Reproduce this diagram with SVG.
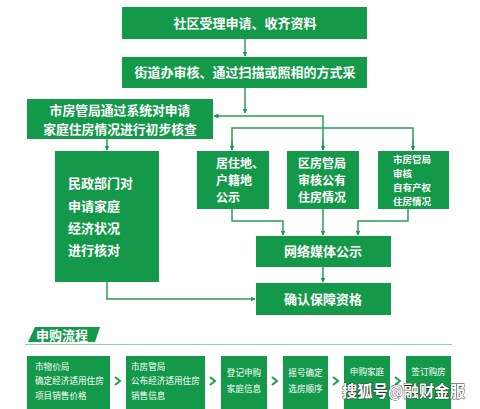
<svg xmlns="http://www.w3.org/2000/svg" width="480" height="409" viewBox="0 0 480 409">
<defs>
<marker id="ah" viewBox="0 0 10 10" refX="9" refY="5" markerWidth="5" markerHeight="5" orient="auto" markerUnits="userSpaceOnUse">
<path d="M0,0 L10,5 L0,10 z" fill="#17974a"/>
</marker>
<style>
.box{fill:#14984a;}
.t{fill:#fff;font-family:"Noto Sans CJK SC","Noto Sans",sans-serif;font-weight:bold;}
.s{fill:#fff;font-family:"Noto Sans CJK SC","Noto Sans",sans-serif;font-size:8.6px;}
.c{fill:none;stroke:#2a9e55;stroke-width:1.5;}
.ch{fill:none;stroke:#18a04a;stroke-width:2;}
</style>
</defs>
<rect width="480" height="409" fill="#ffffff"/>

<g id="n1"><rect class="box" x="122" y="7" width="245" height="32"/>
<text class="t" x="245" y="28" font-size="13" text-anchor="middle">社区受理申请、收齐资料</text></g>
<g id="n2"><rect class="box" x="122" y="57" width="245" height="31"/>
<text class="t" x="245" y="77" font-size="13" text-anchor="middle">街道办审核、通过扫描或照相的方式采</text></g>
<g id="n3"><rect class="box" x="27" y="99" width="186" height="40"/>
<text class="t" x="120" y="115" font-size="12.8" text-anchor="middle">市房管局通过系统对申请</text>
<text class="t" x="120" y="134" font-size="12.8" text-anchor="middle">家庭住房情况进行初步核查</text></g>
<g id="n4"><rect class="box" x="55" y="151" width="104" height="131"/>
<text class="t" x="68" y="188" font-size="13">民政部门对</text>
<text class="t" x="68" y="211" font-size="13">申请家庭</text>
<text class="t" x="68" y="233" font-size="13">经济状况</text>
<text class="t" x="68" y="255" font-size="13">进行核对</text></g>
<g id="n5"><rect class="box" x="197" y="151" width="72" height="58"/>
<text class="t" x="216" y="168" font-size="12">居住地、</text>
<text class="t" x="216" y="185" font-size="12">户籍地</text>
<text class="t" x="216" y="202" font-size="12">公示</text></g>
<g id="n6"><rect class="box" x="287" y="151" width="72" height="58"/>
<text class="t" x="298" y="168" font-size="12">区房管局</text>
<text class="t" x="298" y="185" font-size="12">审核公有</text>
<text class="t" x="298" y="202" font-size="12">住房情况</text></g>
<g id="n7"><rect class="box" x="378" y="151" width="71" height="58"/>
<text class="t" x="393" y="163" font-size="9.5">市房管局</text>
<text class="t" x="393" y="177" font-size="9.5">审核</text>
<text class="t" x="393" y="191" font-size="9.5">自有产权</text>
<text class="t" x="393" y="205" font-size="9.5">住房情况</text></g>
<g id="n8"><rect class="box" x="256" y="236" width="135" height="31"/>
<text class="t" x="323" y="256" font-size="13" text-anchor="middle">网络媒体公示</text></g>
<g id="n9"><rect class="box" x="256" y="283" width="135" height="32"/>
<text class="t" x="323" y="304" font-size="13" text-anchor="middle">确认保障资格</text></g>

<g id="connectors">
<line class="c" x1="245" y1="39" x2="245" y2="56" marker-end="url(#ah)"/>
<line class="c" x1="245" y1="88" x2="245" y2="113" marker-end="url(#ah)"/>
<polyline class="c" points="323,150 323,116 214,116" marker-end="url(#ah)"/>
<polyline class="c" points="232,150 232,128 413,128 413,150" />
<line class="c" x1="232" y1="140" x2="232" y2="150" marker-end="url(#ah)"/>
<line class="c" x1="413" y1="140" x2="413" y2="150" marker-end="url(#ah)"/>
<line class="c" x1="323" y1="140" x2="323" y2="150" marker-end="url(#ah)"/>
<line class="c" x1="107" y1="139" x2="107" y2="150" marker-end="url(#ah)"/>
<polyline class="c" points="232,209 232,221 283,221 283,235" marker-end="url(#ah)"/>
<line class="c" x1="323" y1="209" x2="323" y2="235" marker-end="url(#ah)"/>
<polyline class="c" points="408,209 408,221 358,221 358,235" marker-end="url(#ah)"/>
<line class="c" x1="323" y1="267" x2="323" y2="282" marker-end="url(#ah)"/>
<polyline class="c" points="107,282 107,299 255,299" marker-end="url(#ah)"/>
</g>

<g id="header">
<path d="M35,327 L100,327 L95,342 L28,342 Z" fill="#14984a"/>
<line x1="25" y1="344.5" x2="452" y2="344.5" stroke="#8fcfa2" stroke-width="1"/>
<text class="t" x="36" y="340" font-size="13">申购流程</text>
</g>

<g id="b1"><rect class="box" x="27" y="356" width="83" height="53"/>
<text class="s" x="35" y="370">市物价局</text>
<text class="s" x="35" y="384">确定经济适用住房</text>
<text class="s" x="35" y="399">项目销售价格</text></g>
<g id="b2"><rect class="box" x="126" y="356" width="79" height="53"/>
<text class="s" x="131" y="370">市房管局</text>
<text class="s" x="131" y="384">公布经济适用住房</text>
<text class="s" x="131" y="399">销售信息</text></g>
<g id="b3"><rect class="box" x="221" y="356" width="46" height="53"/>
<text class="s" x="244" y="376" text-anchor="middle">登记申购</text>
<text class="s" x="244" y="392" text-anchor="middle">家庭信息</text></g>
<g id="b4"><rect class="box" x="283" y="356" width="45" height="53"/>
<text class="s" x="305.5" y="376" text-anchor="middle">摇号确定</text>
<text class="s" x="305.5" y="392" text-anchor="middle">选房顺序</text></g>
<g id="b5"><rect class="box" x="344" y="356" width="46" height="53"/>
<text class="s" x="367" y="375" text-anchor="middle">申购家庭</text></g>
<g id="b6"><rect class="box" x="406" y="356" width="45" height="53"/>
<text class="s" x="428.5" y="375" text-anchor="middle">签订购房</text></g>

<g id="chevrons">
<polyline class="ch" points="115,377 120,381 115,385"/>
<polyline class="ch" points="210,377 215,381 210,385"/>
<polyline class="ch" points="272,377 277,381 272,385"/>
<polyline class="ch" points="333,377 338,381 333,385"/>
<polyline class="ch" points="395,377 400,381 395,385"/>
</g>

<text x="342" y="397" font-family="Noto Sans CJK SC,sans-serif" font-weight="bold" font-size="16" fill="#ffffff" stroke="#222" stroke-width="0.8" paint-order="stroke" textLength="123" lengthAdjust="spacingAndGlyphs">搜狐号@融财金服</text>
</svg>
